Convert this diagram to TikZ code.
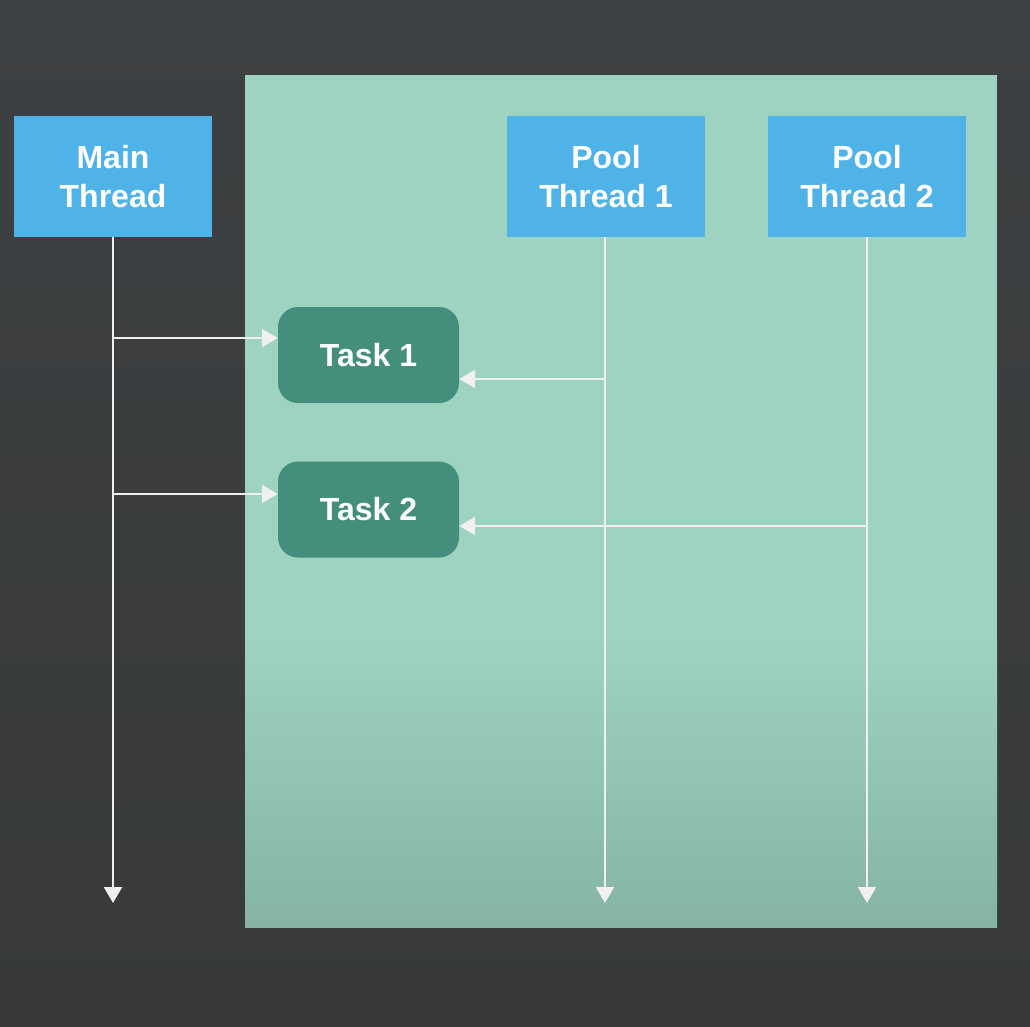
\documentclass[tikz,border=0pt]{standalone}
\usepackage{fontspec}
\setmainfont{Liberation Sans}
\usetikzlibrary{arrows.meta}
\definecolor{bgtop}{HTML}{3E4143}
\definecolor{bgbot}{HTML}{37393A}
\definecolor{paneltop}{HTML}{9DD3C0}
\definecolor{panelbot}{HTML}{85B4A2}
\definecolor{threadblue}{HTML}{4FB3E8}
\definecolor{taskgreen}{HTML}{448F7C}
\definecolor{linewhite}{HTML}{F0F0F0}
\tikzset{
  threadbox/.style={fill=threadblue, minimum width=198pt, minimum height=121pt, inner sep=0pt,
    text=white, font=\fontsize{32}{39}\selectfont\bfseries, align=center},
  taskbox/.style={fill=taskgreen, rounded corners=20pt, minimum width=181pt, minimum height=96pt, inner sep=0pt,
    text=white, font=\fontsize{32}{38}\selectfont\bfseries},
  lifeline/.style={draw=linewhite, line width=2.4pt, -{Triangle[length=16pt,width=18pt]}},
  callarrow/.style={draw=linewhite, line width=2.4pt, -{Triangle[length=16pt,width=18pt]}}
}
\begin{document}
\begin{tikzpicture}[x=1pt,y=-1pt]
\useasboundingbox (0,0) rectangle (1030,1026);
\shade[top color=bgtop, bottom color=bgbot] (0,0) rectangle (1030,1026);
\fill[paneltop] (245,75) rectangle (997,641);
\shade[top color=paneltop, bottom color=panelbot] (245,640) rectangle (997,927);

\node[threadbox] (main) at (113,176.5) {Main\\Thread};
\node[threadbox] (pool1) at (606,176.5) {Pool\\Thread 1};
\node[threadbox] (pool2) at (867,176.5) {Pool\\Thread 2};

\node[taskbox] (task1) at (368.5,355) {Task 1};
\node[taskbox] (task2) at (368.5,509.5) {Task 2};

\coordinate (mainend) at (113,903);
\coordinate (pool1end) at (605,903);
\coordinate (pool2end) at (867,903);
\coordinate (m1) at (113,338);
\coordinate (m2) at (113,494);
\coordinate (p1) at (605,379);
\coordinate (p2) at (867,526);

\draw[lifeline] (main.south -| mainend) -- (mainend);
\draw[lifeline] (pool1.south -| pool1end) -- (pool1end);
\draw[lifeline] (pool2.south -| pool2end) -- (pool2end);

\draw[callarrow] (m1) -- (task1.west |- m1);
\draw[callarrow] (m2) -- (task2.west |- m2);
\draw[callarrow] (p1) -- (task1.east |- p1);
\draw[callarrow] (p2) -- (task2.east |- p2);
\end{tikzpicture}
\end{document}
